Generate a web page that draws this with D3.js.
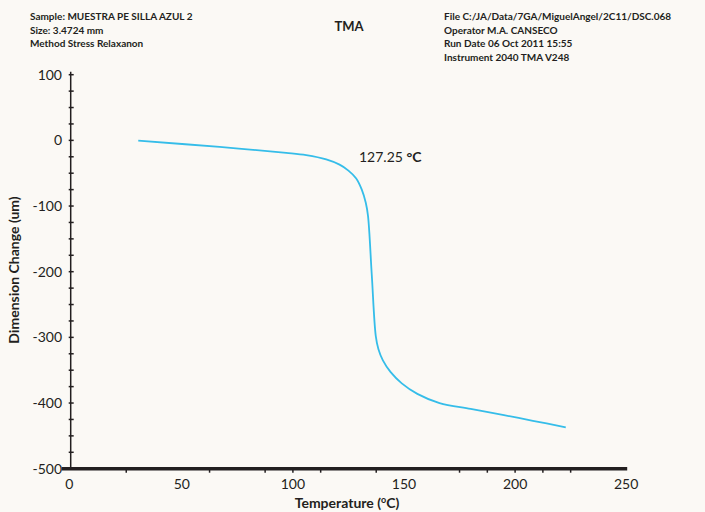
<!DOCTYPE html>
<html>
<head>
<meta charset="utf-8">
<script src="https://cdn.jsdelivr.net/npm/d3@7"></script>
<style>
  html, body { margin: 0; padding: 0; background: #fbf9f5; }
  svg { display: block; font-family: Lato, "Open Sans", sans-serif; }
</style>
</head>
<body>
<div id="graph"></div>
<script>
'use strict';

// curve: temperature (C) vs dimension change (um)
const temps = [30.4, 67, 97, 106, 115, 121, 125, 128.5, 131, 132.8, 133.8, 135.5, 137.3,
    138.5, 140.5, 144, 149, 156, 166, 180, 195, 208, 222.8];
const dims = [-0.5, -10, -19, -22.5, -29, -37, -46, -58, -75, -95, -115, -205, -298,
    -318, -335, -353, -370, -386, -400, -409, -418.5, -427, -437];

const xTicks = [0, 50, 100, 150, 200, 250];
const xMinorTicks = [25, 62.5, 87.5, 100, 112.5, 137.5, 175, 187.5, 200, 212.5, 225];
const yTicks = [100, 0, -100, -200, -300, -400, -500];
const yMinorTicks = d3.range(-500, 101, 25);

const headerLeft = ['Sample: MUESTRA PE SILLA AZUL 2', 'Size: 3.4724 mm', 'Method Stress Relaxanon'];
const headerRight = ['File C:/JA/Data/7GA/MiguelAngel/2C11/DSC.068', 'Operator M.A. CANSECO',
    'Run Date 06 Oct 2011 15:55', 'Instrument 2040 TMA V248'];

const measurements = { width: 705, height: 512 };
const ink = '#231f20';

const svg = d3.select('#graph')
    .append('svg')
    .attr('width', measurements.width)
    .attr('height', measurements.height);

svg.append('rect')
    .attr('width', measurements.width)
    .attr('height', measurements.height)
    .attr('fill', '#fbf9f5');

const xScale = d3.scaleLinear().domain([0, 250]).range([70.7, 626.2]);
const yScale = d3.scaleLinear().domain([-500, 100]).range([468.7, 74.7]);

// header blocks
svg.append('g').selectAll('text')
    .data(headerLeft)
    .enter()
    .append('text')
    .attr('x', 30)
    .attr('y', (d, i) => 20 + i * 13.5)
    .attr('font-size', 10)
    .attr('font-weight', 'bold')
    .attr('fill', ink)
    .text(d => d);

svg.append('g').selectAll('text')
    .data(headerRight)
    .enter()
    .append('text')
    .attr('x', 444)
    .attr('y', (d, i) => 20 + i * 13.5)
    .attr('font-size', 10)
    .attr('font-weight', 'bold')
    .attr('fill', ink)
    .text(d => d);

svg.append('text')
    .attr('x', 349)
    .attr('y', 31)
    .attr('text-anchor', 'middle')
    .attr('font-size', 13)
    .attr('font-weight', 'bold')
    .attr('fill', ink)
    .text('TMA');

// y axis
const yAxis = svg.append('g');
yAxis.append('line')
    .attr('x1', xScale(0)).attr('x2', xScale(0))
    .attr('y1', yScale(100) - 3).attr('y2', yScale(-500))
    .attr('stroke', ink).attr('stroke-width', 1.5);
yAxis.selectAll('.minor')
    .data(yMinorTicks)
    .enter()
    .append('line')
    .attr('x1', xScale(0) - 2).attr('x2', xScale(0) + 3)
    .attr('y1', d => yScale(d)).attr('y2', d => yScale(d))
    .attr('stroke', ink).attr('stroke-width', 1.5);
yAxis.selectAll('text')
    .data(yTicks)
    .enter()
    .append('text')
    .attr('x', 62)
    .attr('y', d => yScale(d) + 5)
    .attr('text-anchor', 'end')
    .attr('font-size', 14)
    .attr('fill', ink)
    .text(d => d);

// x axis
const xAxis = svg.append('g');
xAxis.selectAll('.minor')
    .data(xMinorTicks)
    .enter()
    .append('line')
    .attr('x1', d => xScale(d)).attr('x2', d => xScale(d))
    .attr('y1', yScale(-500)).attr('y2', yScale(-500) + 4)
    .attr('stroke', ink).attr('stroke-width', 1.5);
xAxis.append('line')
    .attr('x1', 61.7).attr('x2', xScale(250) + 1)
    .attr('y1', yScale(-500)).attr('y2', yScale(-500))
    .attr('stroke', ink).attr('stroke-width', 3.5);
xAxis.selectAll('text')
    .data(xTicks)
    .enter()
    .append('text')
    .attr('x', d => xScale(d) - (d === 0 ? 1.5 : 0))
    .attr('y', 489)
    .attr('text-anchor', 'middle')
    .attr('font-size', 14)
    .attr('fill', ink)
    .text(d => d);

// axis titles
const xTitle = svg.append('text')
    .attr('x', 347)
    .attr('y', 508)
    .attr('text-anchor', 'middle')
    .attr('font-size', 14)
    .attr('font-weight', 'bold')
    .attr('fill', ink);
xTitle.append('tspan').text('Temperature (');
xTitle.append('tspan').attr('font-size', 9).attr('dy', -5).text('o');
xTitle.append('tspan').attr('dy', 5).text('C)');

svg.append('text')
    .attr('transform', 'translate(19, 270)rotate(-90)')
    .attr('text-anchor', 'middle')
    .attr('font-size', 14)
    .attr('font-weight', 'bold')
    .attr('fill', ink)
    .text('Dimension Change (um)');

// curve
const points = temps.map((t, i) => ({ t: t, d: dims[i] }));
const line = d3.line()
    .x(p => xScale(p.t))
    .y(p => yScale(p.d))
    .curve(d3.curveCatmullRom.alpha(0.5));

svg.append('path')
    .datum(points)
    .attr('d', line)
    .attr('fill', 'none')
    .attr('stroke', '#35bde9')
    .attr('stroke-width', 1.8);

// annotation
const note = svg.append('text')
    .attr('x', 359)
    .attr('y', 162)
    .attr('font-size', 14)
    .attr('fill', ink);
note.append('tspan').text('127.25 ');
note.append('tspan').attr('font-weight', 'bold').text('\u00b0C');
</script>
</body>
</html>
